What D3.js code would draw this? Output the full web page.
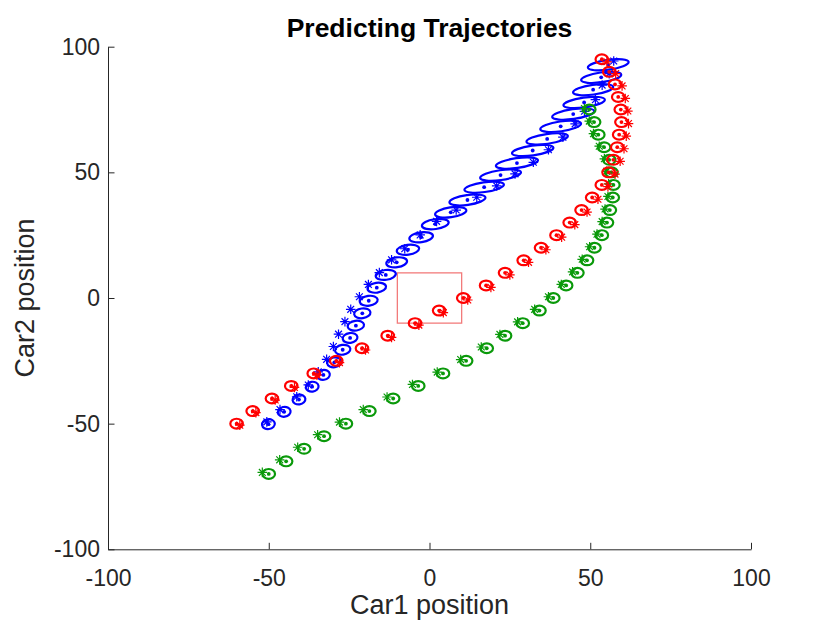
<!DOCTYPE html>
<html>
<head>
<meta charset="utf-8">
<script src="https://cdn.jsdelivr.net/npm/d3@7"></script>
<style>
  body { margin: 0; background: #fff; }
  text { font-family: "Liberation Sans", Arial, Helvetica, sans-serif; }
</style>
</head>
<body>
<div id="chart"></div>
<script>
// tick values
const xTicks = [-100, -50, 0, 50, 100];
const yTicks = [-100, -50, 0, 50, 100];

// car A (red): estimate, measurement
const redX = [-60, -55, -49, -43, -36, -29, -21, -13, -4.5, 3, 10.5, 17.6, 23.5, 29.3, 34.7, 39.5, 43.6, 47.3, 50.6, 53.6, 55.7, 57.2, 58.4, 59.0, 59.7, 59.5, 58.7, 57.7, 55.9, 53.6];
const redY = [-50, -45, -40, -35, -30, -25, -20, -15, -10, -5, 0, 5, 10, 15, 20, 25, 30, 35, 40, 45, 50, 55, 60, 65, 70, 75, 80, 85, 90, 95];
const redStarX = [-59.0, -54.0, -48.0, -42.0, -35.0, -28.0, -19.9, -11.8, -3.3, 4.3, 11.9, 19.1, 25.0, 30.8, 36.2, 41.1, 45.2, 49.0, 52.4, 55.5, 57.7, 59.3, 60.5, 61.2, 61.9, 61.7, 60.9, 59.9, 57.9, 55.2];
const redStarY = [-50.6, -45.6, -40.6, -35.6, -30.7, -25.7, -20.7, -15.7, -10.8, -5.8, -0.8, 4.2, 9.2, 14.2, 19.2, 24.2, 29.2, 34.2, 39.3, 44.3, 49.3, 54.4, 59.4, 64.4, 69.4, 74.4, 79.4, 84.4, 89.3, 94.0];

// car B (green)
const greenX = [-50, -44.6, -39, -32.8, -26, -18.7, -11.3, -3.5, 4.2, 11.4, 17.8, 23.5, 29, 34.2, 38.5, 42.5, 46, 49, 51.3, 53.6, 55.2, 56.1, 57, 57.2, 56.6, 55.9, 54.3, 52.5, 51.2, 49.7];
const greenY = [-70, -65, -60, -55, -50, -45, -40, -35, -30, -25, -20, -15, -10, -5, 0, 5, 10, 15, 20, 25, 30, 35, 40, 45, 50, 55, 60, 65, 70, 75];
const greenStarX = [-52.0, -46.6, -41.0, -34.8, -28.0, -20.6, -13.2, -5.3, 2.4, 9.7, 16.1, 21.9, 27.4, 32.7, 37.0, 41.0, 44.5, 47.5, 49.8, 52.1, 53.7, 54.6, 55.5, 55.7, 55.1, 54.4, 52.8, 51.0, 49.7, 48.2];
const greenStarY = [-69.4, -64.4, -59.4, -54.4, -49.4, -44.4, -39.4, -34.4, -29.5, -24.5, -19.5, -14.5, -9.5, -4.5, 0.5, 5.4, 10.4, 15.4, 20.4, 25.4, 30.4, 35.4, 40.4, 45.4, 50.4, 55.4, 60.4, 65.4, 70.4, 75.4];

// car C (blue), covariance grows along the way
const blueX = [-50.1, -45.2, -40.6, -36.5, -33.0, -29.6, -27.0, -24.7, -22.9, -20.9, -18.9, -16.4, -13.6, -10.2, -6.7, -2.6, 1.8, 6.6, 11.8, 17.0, 22.1, 27.2, 32.1, 36.6, 40.8, 44.7, 48.1, 50.9, 53.4, 55.6];
const blueY = [-50.2, -45.3, -40.4, -35.3, -30.6, -25.6, -20.6, -15.9, -11.0, -6.1, -1.1, 4.1, 9.2, 14.2, 19.2, 24.2, 29.4, 34.1, 39.0, 44.1, 48.9, 53.7, 58.7, 63.3, 68.3, 73.2, 77.8, 82.9, 87.8, 92.8];
const blueStarX = [-50.6, -46.5, -41.3, -37.7, -34.6, -32.0, -29.9, -28.3, -26.3, -24.5, -21.8, -19.0, -15.6, -11.8, -7.7, -2.9, 2.2, 8.3, 14.7, 20.9, 26.6, 32.3, 37.0, 41.5, 45.3, 48.2, 51.6, 53.7, 55.9, 57.3];
const blueStarY = [-49.3, -44.4, -39.3, -34.6, -29.4, -24.4, -19.3, -14.4, -9.4, -4.5, 0.5, 5.4, 10.1, 15.2, 19.6, 25.1, 30.5, 35.0, 40.1, 44.6, 49.4, 54.0, 59.0, 64.0, 69.3, 74.3, 78.9, 84.7, 89.3, 94.3];
const blueSigX = [2.0, 2.0, 2.0, 2.0, 2.0, 2.25, 2.4, 2.3, 2.55, 2.55, 2.8, 2.9, 3.15, 3.25, 3.5, 3.7, 4.2, 4.9, 5.65, 6.2, 6.4, 6.6, 6.5, 6.5, 6.4, 6.6, 6.5, 6.3, 6.3, 6.4];
const sigY = 1.95;     // vertical semi-axis, all cars
const sigR = 1.95;     // red / green circle size
const blueTilt = -8;   // degrees

// sensor box
const boxX = [-10, 10];
const boxY = [-10, 10];

const margin = {top: 46.7, right: 79, bottom: 73.7, left: 108},
    width = 830 - margin.left - margin.right,
    height = 623 - margin.top - margin.bottom;

const svg = d3.select("#chart")
    .append("svg")
    .attr("width", 830)
    .attr("height", 623)
    .style("background", "#fff");

const g = svg.append("g")
    .attr("transform", `translate(${margin.left},${margin.top})`);

const x = d3.scaleLinear().domain([-100, 100]).range([0, width]);
const y = d3.scaleLinear().domain([-100, 100]).range([height, 0]);
const ux = x(1) - x(0), uy = y(0) - y(1);

// axes
const axisColor = "#262626";
const gx = g.append("g")
    .attr("transform", `translate(0,${height})`)
    .call(d3.axisBottom(x).tickValues(xTicks).tickSizeInner(-6.5).tickSizeOuter(0).tickPadding(20).tickFormat(d => String(d)));
const gy = g.append("g")
    .call(d3.axisLeft(y).tickValues(yTicks).tickSizeInner(-6.5).tickSizeOuter(0).tickPadding(8).tickFormat(d => String(d)));
[gx, gy].forEach(a => {
    a.attr("font-size", null).attr("font-family", null);
    a.select(".domain").attr("stroke", axisColor).attr("stroke-width", 1);
    a.selectAll(".tick line").attr("stroke", axisColor).attr("stroke-width", 1);
    a.selectAll(".tick text").attr("fill", axisColor).style("font-size", "23px");
});
gx.selectAll(".tick text").attr("dy", "0.71em");

// title and labels
svg.append("text")
    .attr("x", margin.left + width / 2)
    .attr("y", 37)
    .attr("text-anchor", "middle")
    .style("font-size", "26.5px")
    .style("font-weight", "bold")
    .attr("fill", "#000")
    .text("Predicting Trajectories");
svg.append("text")
    .attr("x", margin.left + width / 2)
    .attr("y", 614)
    .attr("text-anchor", "middle")
    .style("font-size", "27px")
    .attr("fill", axisColor)
    .text("Car1 position");
svg.append("text")
    .attr("transform", `translate(34,${margin.top + height / 2}) rotate(-90)`)
    .attr("text-anchor", "middle")
    .style("font-size", "27px")
    .attr("fill", axisColor)
    .text("Car2 position");

// box
g.append("rect")
    .attr("x", x(boxX[0]))
    .attr("y", y(boxY[1]))
    .attr("width", x(boxX[1]) - x(boxX[0]))
    .attr("height", y(boxY[0]) - y(boxY[1]))
    .attr("fill", "none")
    .attr("stroke", "#f27b7b")
    .attr("stroke-width", 1.3);

const starPath = "M-4.8,0H4.8M0,-4.8V4.8M-3.4,-3.4L3.4,3.4M-3.4,3.4L3.4,-3.4";

function drawCar(xs, ys, sxs, sys, rxs, tilt, color) {
    const pts = xs.map((v, i) => ({x: v, y: ys[i], sx: sxs[i], sy: sys[i], rx: rxs[i]}));
    const layer = g.append("g");
    layer.selectAll("ellipse")
        .data(pts)
        .join("ellipse")
        .attr("cx", d => x(d.x))
        .attr("cy", d => y(d.y))
        .attr("rx", d => d.rx * ux)
        .attr("ry", sigY * uy)
        .attr("transform", d => `rotate(${tilt},${x(d.x)},${y(d.y)})`)
        .attr("fill", "none")
        .attr("stroke", color)
        .attr("stroke-width", 2.2);
    layer.selectAll("circle")
        .data(pts)
        .join("circle")
        .attr("cx", d => x(d.x))
        .attr("cy", d => y(d.y))
        .attr("r", 1.9)
        .attr("fill", color);
    layer.selectAll("path")
        .data(pts)
        .join("path")
        .attr("transform", d => `translate(${x(d.sx)},${y(d.sy)})`)
        .attr("d", starPath)
        .attr("fill", "none")
        .attr("stroke", color)
        .attr("stroke-width", 1.2);
}

drawCar(blueX, blueY, blueStarX, blueStarY, blueSigX, blueTilt, "#0000ff");
drawCar(greenX, greenY, greenStarX, greenStarY, greenX.map(() => sigR), 0, "#0a990a");
drawCar(redX, redY, redStarX, redStarY, redX.map(() => sigR), 0, "#ff0000");
</script>
</body>
</html>
